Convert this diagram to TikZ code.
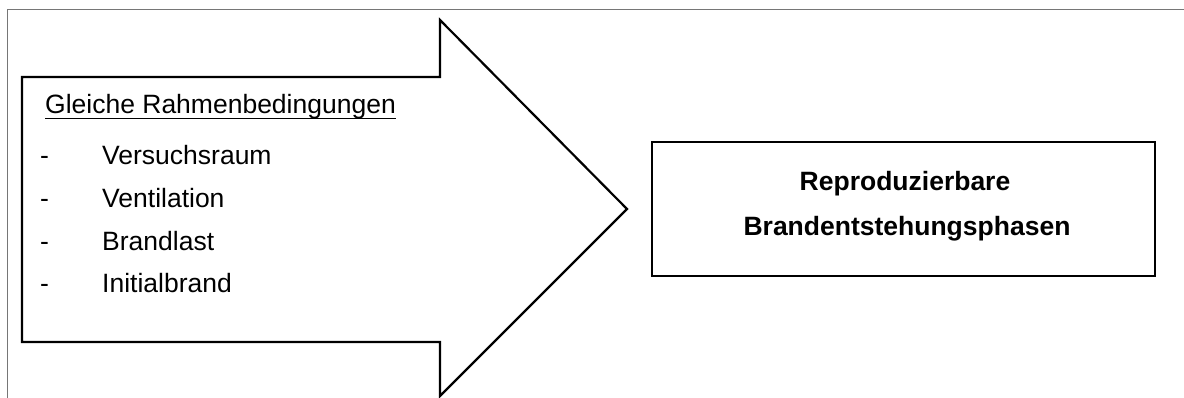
\documentclass[tikz,border=0pt]{standalone}
\usepackage{fontspec}
\setmainfont{Liberation Sans}
\begin{document}
\begin{tikzpicture}[x=1pt,y=-1pt,
  frameline/.style={draw={rgb,255:red,118;green,118;blue,118},line width=1.6pt},
  outline/.style={draw=black,line width=2.2pt,line join=miter},
  listtext/.style={anchor=base west,inner sep=0pt,font=\fontsize{26.5}{30}\selectfont},
  boldtext/.style={anchor=base,inner sep=0pt,font=\fontsize{26.5}{30}\selectfont\bfseries}]
\useasboundingbox (0,0) rectangle (1184,398);
% page frame: top and left edges only
\draw[frameline] (1184,9.5) -- (7.5,9.5) -- (7.5,398);
% block arrow
\draw[outline] (22,77) -- (440,77) -- (440,20) -- (627,209) -- (440,396)
  -- (440,342) -- (22,342) -- cycle;
% target box
\node[outline,rectangle,minimum width=503pt,minimum height=134pt,inner sep=0pt]
  (result) at (903.5,209) {};
\node[boldtext] (r1) at (905,191) {Reproduzierbare};
\node[boldtext] (r2) at (907,236) {Brandentstehungsphasen};
% conditions list
\node[listtext] (head) at (45,114) {Gleiche Rahmenbedingungen};
\draw[line width=1.3pt] ([yshift=-4.5pt]head.base west) -- ([yshift=-4.5pt]head.base east);
\foreach \y/\t/\n in {165/Versuchsraum/a,208/Ventilation/b,251/Brandlast/c,293/Initialbrand/d}{
  \node[listtext] (dash\n) at (40,\y) {-};
  \node[listtext] (item\n) at (102,\y) {\t};
}
\end{tikzpicture}
\end{document}
